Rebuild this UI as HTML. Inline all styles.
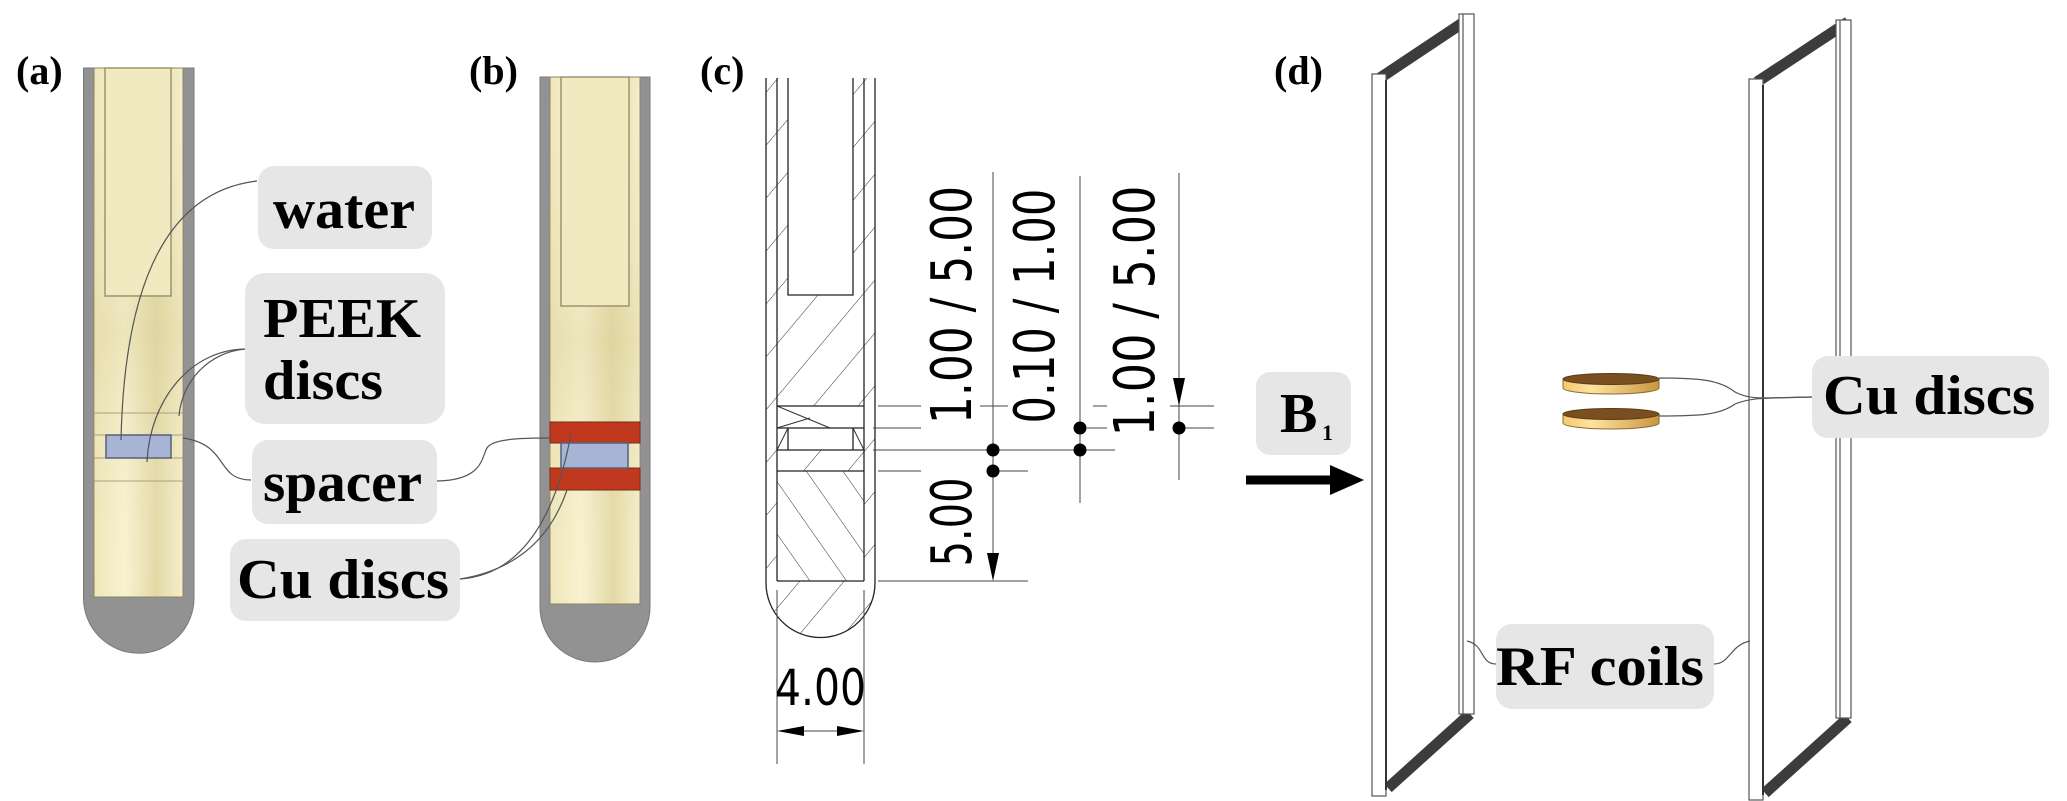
<!DOCTYPE html>
<html><head><meta charset="utf-8"><style>
html,body{margin:0;padding:0;background:#fff;}
svg{display:block;}
.lbl{font-family:"Liberation Serif",serif;font-weight:bold;fill:#000;}
.dim{font-family:"DejaVu Sans Condensed","Liberation Sans",sans-serif;fill:#000;}
</style></head><body>
<svg width="2067" height="801" viewBox="0 0 2067 801" xmlns="http://www.w3.org/2000/svg">
<defs>
<linearGradient id="cream" x1="0" y1="0" x2="1" y2="0">
<stop offset="0" stop-color="#efe6b8"/><stop offset="0.35" stop-color="#f8f2d2"/><stop offset="0.7" stop-color="#e3d9a6"/><stop offset="1" stop-color="#f5eecb"/>
</linearGradient>
<linearGradient id="creamv" x1="0" y1="0" x2="0" y2="1">
<stop offset="0" stop-color="#f6f0cf" stop-opacity="0"/><stop offset="0.5" stop-color="#d8cd95" stop-opacity="0.35"/><stop offset="1" stop-color="#f6f0cf" stop-opacity="0"/>
</linearGradient>
<linearGradient id="gold" x1="0" y1="0" x2="1" y2="0">
<stop offset="0" stop-color="#f6c870"/><stop offset="0.3" stop-color="#fde3a0"/><stop offset="1" stop-color="#c9953f"/>
</linearGradient>
<pattern id="hatch" width="34" height="34" patternUnits="userSpaceOnUse" patternTransform="rotate(40)">
<line x1="0" y1="0" x2="0" y2="34" stroke="#333" stroke-width="1"/>
</pattern>
<pattern id="hatch2" width="30" height="30" patternUnits="userSpaceOnUse" patternTransform="rotate(-35)">
<line x1="0" y1="0" x2="0" y2="30" stroke="#333" stroke-width="1"/>
</pattern>
</defs>

<text class="lbl" x="16" y="84" font-size="40">(a)</text>
<text class="lbl" x="469" y="84" font-size="40">(b)</text>
<text class="lbl" x="700" y="84" font-size="40">(c)</text>
<text class="lbl" x="1274" y="84" font-size="40">(d)</text>

<path d="M83.5,68 V598 A55.25,55.25 0 0 0 194,598 V68 Z" fill="#929292" stroke="#7a7a7a"/>
<rect x="94" y="68" width="89" height="529" fill="url(#cream)" stroke="#8a8466" stroke-width="1"/>
<rect x="94" y="68" width="89" height="529" fill="url(#creamv)"/>
<rect x="105" y="68" width="66" height="228" fill="#f1e9c0" stroke="#9b9470" stroke-width="1.5"/>
<g stroke="#a8a184" stroke-width="1"><line x1="94" y1="413" x2="183" y2="413"/><line x1="94" y1="435" x2="183" y2="435"/><line x1="94" y1="458" x2="183" y2="458"/><line x1="94" y1="481" x2="183" y2="481"/></g>
<rect x="106" y="435" width="65" height="23" fill="#a8b4d6" stroke="#55607a" stroke-width="1.5"/>

<path d="M540,77 V607 A55,55 0 0 0 650,607 V77 Z" fill="#929292" stroke="#7a7a7a"/>
<rect x="550" y="77" width="90" height="527" fill="url(#cream)" stroke="#8a8466" stroke-width="1"/>
<rect x="550" y="77" width="90" height="527" fill="url(#creamv)"/>
<rect x="561" y="77" width="68" height="229" fill="#f1e9c0" stroke="#9b9470" stroke-width="1.5"/>
<rect x="550" y="422" width="90" height="21" fill="#c0391f" stroke="#7a2a1a"/>
<rect x="550" y="468" width="90" height="22" fill="#c0391f" stroke="#7a2a1a"/>
<rect x="561" y="443" width="67" height="25" fill="#a8b4d6" stroke="#55607a" stroke-width="1.5"/>

<g fill="#e6e6e6">
<rect x="258" y="166" width="174" height="83" rx="16"/>
<rect x="245" y="273" width="200" height="151" rx="20"/>
<rect x="252" y="440" width="185" height="84" rx="16"/>
<rect x="230" y="539" width="230" height="82" rx="16"/>
</g>
<text class="lbl" x="273" y="228" font-size="56" textLength="142" lengthAdjust="spacingAndGlyphs">water</text>
<text class="lbl" x="263" y="337" font-size="56" textLength="158" lengthAdjust="spacingAndGlyphs">PEEK</text>
<text class="lbl" x="263" y="399" font-size="56" textLength="120" lengthAdjust="spacingAndGlyphs">discs</text>
<text class="lbl" x="263" y="501" font-size="56" textLength="159" lengthAdjust="spacingAndGlyphs">spacer</text>
<text class="lbl" x="237" y="598" font-size="56" textLength="212" lengthAdjust="spacingAndGlyphs">Cu discs</text>

<g fill="none" stroke="#555" stroke-width="1.2">
<path d="M257,181 C180,190 125,260 121,440"/>
<path d="M245,349 C190,350 150,400 147,462"/>
<path d="M245,349 C210,352 182,380 179,416"/>
<path d="M251,480 C215,480 230,445 183,438"/>
<path d="M437,481 C490,480 480,450 490,445 C500,438 530,438 550,438"/>
<path d="M460,579 C520,575 555,520 571,434"/>
<path d="M460,579 C515,570 550,540 567,490"/>
</g>

<path d="M766,78 V583 A54.5,54.5 0 0 0 875,583 V78 Z" fill="url(#hatch)"/>
<rect x="788" y="78" width="65" height="217" fill="#fff"/>
<rect x="777" y="406" width="87" height="44" fill="#fff"/>
<rect x="777" y="471" width="87" height="110" fill="#fff"/>
<rect x="777" y="471" width="87" height="110" fill="url(#hatch2)"/>
<path d="M777,406 L830,428 M777,428 L810,418 M788,428 L777,450 M853,428 L864,450" stroke="#333" stroke-width="1"/>
<g fill="none" stroke="#222" stroke-width="1.3">
<path d="M766,78 V583 A54.5,54.5 0 0 0 875,583 V78"/>
<line x1="777" y1="78" x2="777" y2="581"/><line x1="864" y1="78" x2="864" y2="581"/>
<path d="M788,78 V295 H853 V78"/>
<line x1="777" y1="406" x2="864" y2="406"/><line x1="777" y1="428" x2="864" y2="428"/>
<line x1="777" y1="450" x2="864" y2="450"/><line x1="777" y1="471" x2="864" y2="471"/>
<line x1="777" y1="581" x2="864" y2="581"/>
<path d="M788,428 V450 M853,428 V450"/>
</g>
<g stroke="#444" stroke-width="1">
<line x1="777" y1="590" x2="777" y2="764"/><line x1="864" y1="590" x2="864" y2="764"/>
<line x1="878" y1="406" x2="921" y2="406"/><line x1="980" y1="406" x2="1008" y2="406"/><line x1="1093" y1="406" x2="1107" y2="406"/><line x1="1170" y1="406" x2="1214" y2="406"/>
<line x1="873" y1="428" x2="921" y2="428"/><line x1="1087" y1="428" x2="1107" y2="428"/><line x1="1182" y1="428" x2="1214" y2="428"/>
<line x1="873" y1="450" x2="1115" y2="450"/>
<line x1="878" y1="471" x2="921" y2="471"/><line x1="992" y1="471" x2="1028" y2="471"/>
<line x1="878" y1="581" x2="1028" y2="581"/>
<line x1="993" y1="172" x2="993" y2="560"/>
<line x1="1080" y1="176" x2="1080" y2="503"/>
<line x1="1179" y1="173" x2="1179" y2="480"/>
<line x1="790" y1="731" x2="851" y2="731"/>
</g>
<g fill="#000">
<polygon points="987,553 999,553 993,581"/>
<polygon points="1173,378 1185,378 1179,406"/>
<polygon points="777,731 804,726 804,736"/>
<polygon points="864,731 837,726 837,736"/>
<ellipse cx="993" cy="450" rx="6.5" ry="6.5"/><ellipse cx="993" cy="471" rx="6.5" ry="6.5"/>
<ellipse cx="1080" cy="428" rx="6.5" ry="6.5"/><ellipse cx="1080" cy="450" rx="6.5" ry="6.5"/>
<ellipse cx="1179" cy="428" rx="6.5" ry="6.5"/>
</g>
<text class="dim" transform="translate(971,305) rotate(-90)" text-anchor="middle" font-size="56" textLength="238" lengthAdjust="spacingAndGlyphs">1.00 / 5.00</text>
<text class="dim" transform="translate(1054,306) rotate(-90)" text-anchor="middle" font-size="56" textLength="235" lengthAdjust="spacingAndGlyphs">0.10 / 1.00</text>
<text class="dim" transform="translate(1154,311) rotate(-90)" text-anchor="middle" font-size="56" textLength="251" lengthAdjust="spacingAndGlyphs">1.00 / 5.00</text>
<text class="dim" transform="translate(971,522) rotate(-90)" text-anchor="middle" font-size="56" textLength="89" lengthAdjust="spacingAndGlyphs">5.00</text>
<text class="dim" x="775" y="705" font-size="50" textLength="91" lengthAdjust="spacingAndGlyphs">4.00</text>

<g stroke="#555" stroke-width="1.2">
<line x1="1380" y1="78" x2="1470" y2="18" stroke="#3c3c3c" stroke-width="11"/>
<line x1="1388" y1="788" x2="1470" y2="714" stroke="#3c3c3c" stroke-width="11"/>
<rect x="1459" y="14" width="15" height="700" fill="#fff"/>
<line x1="1463" y1="14" x2="1463" y2="714"/>
<rect x="1372" y="74" width="14" height="722" fill="#fff"/>
<line x1="1386" y1="80" x2="1386" y2="790" stroke="#333" stroke-width="2"/>
<line x1="1757" y1="82" x2="1848" y2="22" stroke="#3c3c3c" stroke-width="11"/>
<line x1="1765" y1="793" x2="1848" y2="718" stroke="#3c3c3c" stroke-width="11"/>
<rect x="1836" y="20" width="15" height="698" fill="#fff"/>
<line x1="1840" y1="20" x2="1840" y2="718"/>
<rect x="1749" y="79" width="14" height="721" fill="#fff"/>
<line x1="1763" y1="85" x2="1763" y2="795" stroke="#333" stroke-width="2"/>
</g>
<g>
<path d="M1563,379 V388 A48,6 0 0 0 1659,388 V379 Z" fill="url(#gold)" stroke="#8a6a30"/>
<ellipse cx="1611" cy="379" rx="48" ry="5.5" fill="#7a4f1f" stroke="#5a3a15"/>
<path d="M1563,414 V423 A48,6 0 0 0 1659,423 V414 Z" fill="url(#gold)" stroke="#8a6a30"/>
<ellipse cx="1611" cy="414" rx="48" ry="5.5" fill="#7a4f1f" stroke="#5a3a15"/>
</g>
<rect x="1256" y="372" width="95" height="83" rx="14" fill="#e6e6e6"/>
<text class="lbl" x="1280" y="432" font-size="56">B</text>
<text class="lbl" x="1322" y="440" font-size="22">1</text>
<line x1="1246" y1="480" x2="1334" y2="480" stroke="#000" stroke-width="9"/>
<polygon points="1330,465 1364,480 1330,495" fill="#000"/>
<rect x="1812" y="356" width="237" height="82" rx="16" fill="#e6e6e6"/>
<text class="lbl" x="1823" y="414" font-size="56" textLength="212" lengthAdjust="spacingAndGlyphs">Cu discs</text>
<rect x="1496" y="624" width="218" height="85" rx="16" fill="#e6e6e6"/>
<text class="lbl" x="1496" y="685" font-size="56" textLength="208" lengthAdjust="spacingAndGlyphs">RF coils</text>
<g fill="none" stroke="#555" stroke-width="1.2">
<path d="M1812,397 C1760,398 1750,400 1735,392 C1720,380 1700,378 1659,378"/>
<path d="M1812,397 C1760,398 1750,398 1735,404 C1720,415 1700,416 1659,416"/>
<path d="M1496,664 C1480,664 1485,645 1467,641"/>
<path d="M1714,664 C1730,664 1730,645 1750,641"/>
</g>
</svg>
</body></html>
